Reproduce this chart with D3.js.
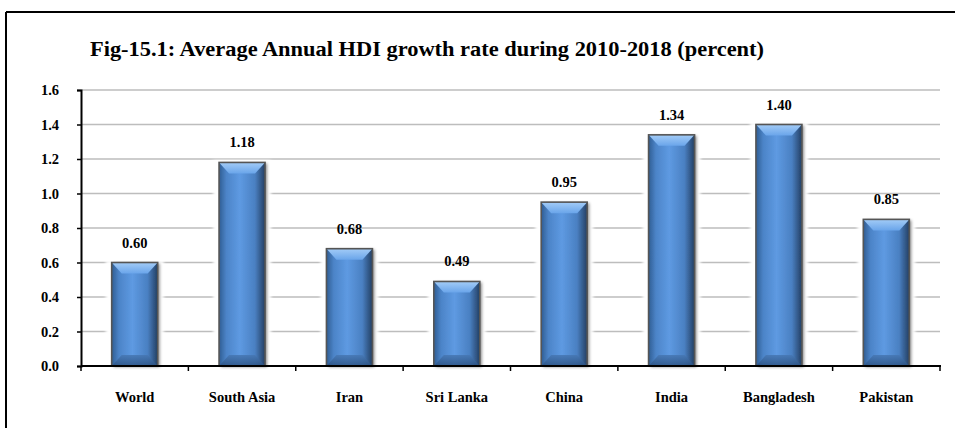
<!DOCTYPE html>
<html><head><meta charset="utf-8">
<script src="https://cdn.jsdelivr.net/npm/d3@7"></script>
<style>body{margin:0;background:#fff}svg{display:block}svg text{font-family:"Liberation Serif","Times New Roman",serif;font-weight:bold;fill:#000}</style>
</head><body>
<script>
const categories = ["World","South Asia","Iran","Sri Lanka","China","India","Bangladesh","Pakistan"];
const values = [0.60,1.18,0.68,0.49,0.95,1.34,1.40,0.85];
const yTicks = [0,0.2,0.4,0.6,0.8,1.0,1.2,1.4,1.6];
const title = "Fig-15.1: Average Annual HDI growth rate during 2010-2018 (percent)";

const W=955,H=428;
const svg=d3.select("body").append("svg").attr("width",W).attr("height",H);
const defs=svg.append("defs");
const hg=defs.append("linearGradient").attr("id","hgrad").attr("x1",0).attr("x2",1).attr("y1",0).attr("y2",0);
[[0,"#2f5d93"],[0.16,"#4c84c8"],[0.45,"#5e9ae2"],[0.78,"#4a80c2"],[1,"#233f63"]].forEach(s=>hg.append("stop").attr("offset",s[0]).attr("stop-color",s[1]));
const tg=defs.append("linearGradient").attr("id","tgrad").attr("x1",0).attr("x2",0).attr("y1",0).attr("y2",1);
[[0,"#a3ccf7"],[1,"#6aa5ea"]].forEach(s=>tg.append("stop").attr("offset",s[0]).attr("stop-color",s[1]));
const bgd=defs.append("linearGradient").attr("id","bgrad").attr("x1",0).attr("x2",0).attr("y1",0).attr("y2",1);
[[0,"#4677b3"],[1,"#2c5282"]].forEach(s=>bgd.append("stop").attr("offset",s[0]).attr("stop-color",s[1]));
const sh=defs.append("filter").attr("id","shadow").attr("x","-20%").attr("y","-10%").attr("width","150%").attr("height","130%");
sh.append("feDropShadow").attr("dx",2).attr("dy",1).attr("stdDeviation",1.5).attr("flood-color","#000").attr("flood-opacity",0.45);
const gl=defs.append("filter").attr("id","glow").attr("x","-50%").attr("y","-20%").attr("width","200%").attr("height","140%");
gl.append("feGaussianBlur").attr("stdDeviation",1.5);

// outer frame
svg.append("line").attr("x1",6).attr("x2",6).attr("y1",12).attr("y2",H).attr("stroke","#000").attr("stroke-width",2);
svg.append("line").attr("x1",6).attr("x2",W).attr("y1",12).attr("y2",12).attr("stroke","#000").attr("stroke-width",2);

svg.append("text").attr("x",90).attr("y",56).attr("font-size",20).attr("textLength",674).attr("lengthAdjust","spacingAndGlyphs").text(title);

const x=d3.scaleBand().domain(categories).range([81,940]).paddingInner(0).paddingOuter(0);
const y=d3.scaleLinear().domain([0,1.6]).range([366,90]);

// gridlines
svg.append("g").selectAll("line").data(yTicks.slice(1)).join("line")
 .attr("x1",81).attr("x2",940).attr("y1",d=>y(d)).attr("y2",d=>y(d)).attr("stroke","#bdbdbd").attr("stroke-width",1.5);

// y axis
const ya=svg.append("g").attr("transform","translate(81,0)").call(d3.axisLeft(y).tickValues(yTicks).tickFormat(d3.format(".1f")).tickSize(4).tickPadding(18));
ya.select(".domain").attr("stroke","#000").attr("stroke-width",2);
ya.selectAll(".tick line").attr("stroke","#000").attr("stroke-width",1.5);
ya.selectAll("text").attr("font-size",14.5).attr("font-family",null);

// bars
const bw=46;
const g=svg.append("g");
categories.forEach((c,i)=>{
  const cx=x(c)+x.bandwidth()/2, x0=cx-bw/2, x1=cx+bw/2, yt=y(values[i]), yb=y(0);
  const bg=g.append("g");
  bg.append("rect").attr("x",x0-6).attr("y",yt-2).attr("width",bw+12).attr("height",yb-yt+1).attr("fill","#fff").attr("filter","url(#glow)");
  bg.append("rect").attr("x",x0).attr("y",yt).attr("width",bw).attr("height",yb-yt).attr("fill","url(#hgrad)").attr("filter","url(#shadow)");
  const bev=Math.min(11,(yb-yt)/2);
  bg.append("path").attr("d",`M${x0},${yt}L${x1},${yt}L${x1-10},${yt+bev}L${x0+10},${yt+bev}Z`).attr("fill","url(#tgrad)");
  bg.append("path").attr("d",`M${x0},${yb}L${x1},${yb}L${x1-10},${yb-bev}L${x0+10},${yb-bev}Z`).attr("fill","url(#bgrad)").attr("opacity",0.85);
  bg.append("rect").attr("x",x0).attr("y",yt).attr("width",bw).attr("height",yb-yt).attr("fill","none").attr("stroke","#555").attr("stroke-width",1.6);
  g.append("text").attr("x",cx).attr("y",yt-15).attr("text-anchor","middle").attr("font-size",14.5).text(values[i].toFixed(2));
});

// x axis
const xa=svg.append("g").attr("transform","translate(0,366)");
xa.append("line").attr("x1",81).attr("x2",941).attr("stroke","#000").attr("stroke-width",2);
const bounds=d3.range(categories.length+1).map(i=>81+i*x.bandwidth());
xa.selectAll("line.t").data(bounds).join("line").attr("class","t").attr("x1",d=>d).attr("x2",d=>d).attr("y1",0).attr("y2",5).attr("stroke","#000").attr("stroke-width",1.5);
xa.selectAll("text").data(categories).join("text").attr("x",d=>x(d)+x.bandwidth()/2).attr("y",36).attr("text-anchor","middle")
 .attr("font-size",14.5).text(d=>d);
</script>
</body></html>
